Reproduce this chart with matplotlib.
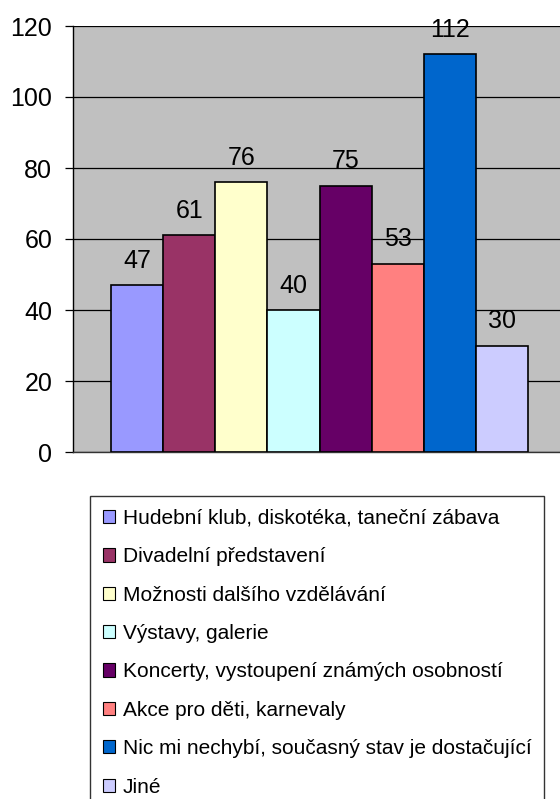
import numpy as np
import matplotlib.pyplot as plt
from matplotlib.patches import Patch

plt.rcParams['font.family'] = ['Liberation Sans', 'DejaVu Sans']

categories = ["Hudební klub, diskotéka, taneční zábava",
              "Divadelní představení",
              "Možnosti dalšího vzdělávání",
              "Výstavy, galerie",
              "Koncerty, vystoupení známých osobností",
              "Akce pro děti, karnevaly",
              "Nic mi nechybí, současný stav je dostačující",
              "Jiné"]
values = [47, 61, 76, 40, 75, 53, 112, 30]
colors = ["#9999FF", "#993366", "#FFFFCC", "#CCFFFF",
          "#660066", "#FF8080", "#0066CC", "#CCCCFF"]
yticks = [0, 20, 40, 60, 80, 100, 120]

W, H = 560, 799
fig = plt.figure(figsize=(W / 100, H / 100), dpi=100)
# plot area in pixels: x 73..566, y 26..452
ax = fig.add_axes([73 / W, 1 - 452 / H, (566 - 73) / W, (452 - 26) / H])
ax.set_facecolor("#C0C0C0")

n = len(values)
gap = 38 / 52.1
x = np.arange(n)
ax.bar(x, values, width=1.0, color=colors, edgecolor="black", linewidth=1.2, zorder=3)
ax.set_xlim(-0.5 - gap, n - 0.5 + gap)
ax.set_ylim(0, 120)

for xi, v in zip(x, values):
    ax.annotate(str(v), (xi, v), xytext=(0, 9), textcoords="offset points",
                ha="center", va="bottom", fontsize=18, zorder=4, clip_on=False)

ax.set_yticks(yticks)
ax.set_yticklabels([str(t) for t in yticks], fontsize=18)
ax.yaxis.grid(True, color="black", linewidth=0.9, zorder=1)
ax.tick_params(axis="y", length=6, width=0.9, direction="out", pad=9)
ax.set_xticks([])
for s in ["top", "right"]:
    ax.spines[s].set_visible(False)
ax.spines["left"].set_linewidth(1.0)
ax.spines["bottom"].set_linewidth(1.0)
ax.spines["bottom"].set_color("#333333")

handles = [Patch(facecolor=c, edgecolor="black", linewidth=0.8) for c in colors]
leg = fig.legend(handles, categories, loc="upper left",
                 bbox_to_anchor=(90 / W, 1 - 496 / H), fontsize=15,
                 frameon=True, fancybox=False, edgecolor="black",
                 handlelength=0.6, handleheight=0.6, handletextpad=0.35,
                 labelspacing=0.93, borderpad=0.62, borderaxespad=0)
leg.get_frame().set_linewidth(1.0)

fig.savefig("out.png", dpi=100)
